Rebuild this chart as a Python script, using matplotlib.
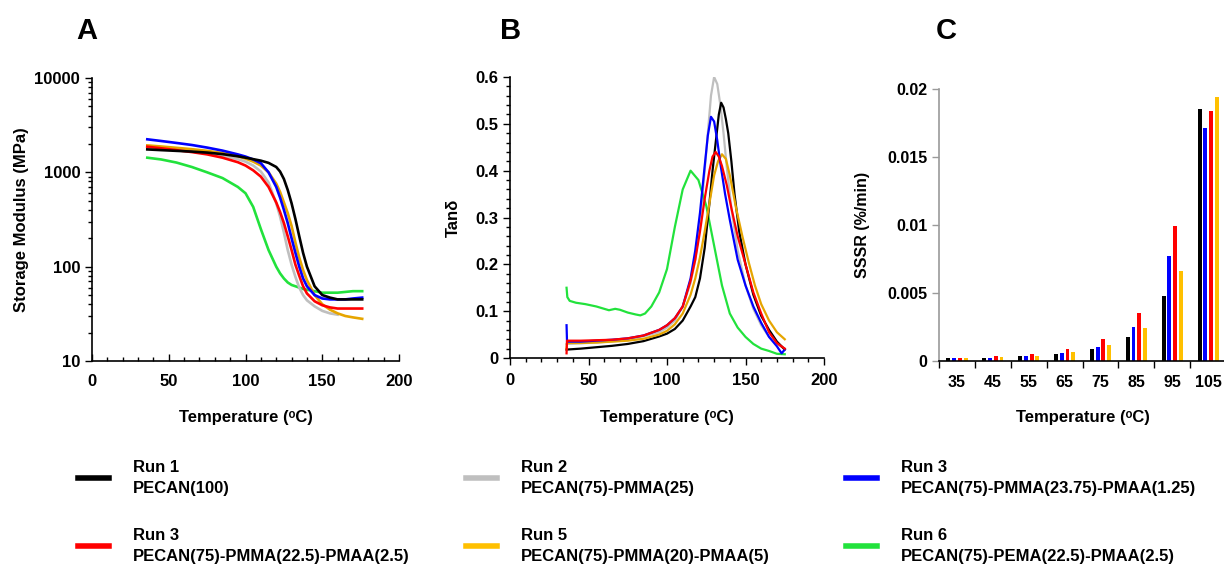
import numpy as np
import matplotlib
matplotlib.use("Agg")
import matplotlib.pyplot as plt
from matplotlib.ticker import MultipleLocator, FuncFormatter, FixedLocator, LogLocator, NullFormatter
from matplotlib.lines import Line2D

plt.rcParams['font.family'] = ['Liberation Sans', 'DejaVu Sans']
plt.rcParams['font.weight'] = 'bold'

# ---------------- data ----------------
run_labels = ["Run 1\nPECAN(100)", "Run 2\nPECAN(75)-PMMA(25)",
              "Run 3\nPECAN(75)-PMMA(23.75)-PMAA(1.25)", "Run 3\nPECAN(75)-PMMA(22.5)-PMAA(2.5)",
              "Run 5\nPECAN(75)-PMMA(20)-PMAA(5)", "Run 6\nPECAN(75)-PEMA(22.5)-PMAA(2.5)"]

# A: storage modulus (MPa)
tA = [36, 45, 55, 65, 75, 85, 95, 100, 105, 110, 115, 120, 122.5, 125, 127.5, 130,
      132.5, 135, 137.5, 140, 145, 150, 155, 160, 165, 170, 176]
eA_run1 = [1750, 1720, 1690, 1660, 1620, 1560, 1480, 1430, 1380, 1330, 1260, 1140, 1020, 850, 650, 470,
           320, 210, 140, 100, 62, 50, 47, 45, 45, 45, 45]
tA_run2 = [36, 45, 55, 65, 75, 85, 95, 100, 105, 110, 115, 120, 122.5, 125, 127.5, 130,
           132.5, 135, 137.5, 140, 145, 150, 155, 160]
eA_run2 = [1800, 1760, 1720, 1660, 1590, 1500, 1380, 1300, 1180, 1020, 780, 470, 340, 230, 150, 105,
           78, 60, 50, 44, 38, 34, 32, 31]
eA_run3a = [2240, 2150, 2050, 1950, 1830, 1700, 1550, 1470, 1370, 1250, 1000, 700, 540, 400, 290, 200,
            140, 100, 75, 62, 50, 46, 45, 45, 45, 46, 47]
eA_run3b = [1870, 1800, 1720, 1640, 1550, 1430, 1280, 1180, 1050, 900, 700, 480, 380, 290, 210, 150,
            105, 80, 62, 52, 43, 39, 37, 36, 36, 36, 36]
eA_run5 = [1930, 1880, 1820, 1760, 1690, 1600, 1480, 1400, 1300, 1180, 1000, 760, 620, 480, 370, 270,
           180, 125, 92, 72, 50, 40, 35, 32, 30, 29, 28]
eA_run6 = [1430, 1370, 1270, 1140, 1000, 870, 700, 600, 430, 250, 150, 100, 85, 75, 68, 64,
           62, 60, 58, 57, 55, 53, 53, 53, 54, 55, 55]

# B: tan delta
tB_run1 = [36, 45, 55, 65, 75, 85, 95, 100, 105, 110, 115, 118, 121, 124, 127, 129, 131, 133, 134.5,
           136, 137.5, 139, 141, 143, 146, 150, 155, 160, 165, 170, 175]
dB_run1 = [0.018, 0.02, 0.023, 0.026, 0.03, 0.036, 0.046, 0.052, 0.062, 0.08, 0.11, 0.13, 0.17, 0.235,
           0.33, 0.4, 0.46, 0.52, 0.545, 0.535, 0.51, 0.48, 0.42, 0.35, 0.27, 0.2, 0.135, 0.09, 0.06,
           0.035, 0.018]
tB_run2 = [36, 55, 75, 95, 100, 105, 110, 115, 118, 121, 124, 126, 128, 130, 132, 134, 136, 138, 141,
           145, 150, 155, 160, 165, 170, 175]
dB_run2 = [0.03, 0.033, 0.038, 0.055, 0.065, 0.08, 0.11, 0.16, 0.21, 0.29, 0.4, 0.48, 0.56, 0.6, 0.585,
           0.54, 0.48, 0.41, 0.32, 0.23, 0.155, 0.105, 0.07, 0.045, 0.03, 0.02]
tB_run3a = [36, 36.3, 45, 55, 65, 75, 85, 95, 100, 105, 110, 115, 118, 121, 124, 126, 128, 130, 132,
            134, 137, 140, 145, 150, 155, 160, 165, 170, 173, 175]
dB_run3a = [0.07, 0.035, 0.035, 0.037, 0.039, 0.042, 0.048, 0.06, 0.07, 0.085, 0.11, 0.17, 0.23, 0.31,
            0.41, 0.475, 0.515, 0.505, 0.465, 0.415, 0.35, 0.295, 0.21, 0.155, 0.11, 0.075, 0.045,
            0.025, 0.01, 0.018]
tB_run3b = [36, 36.3, 45, 55, 65, 75, 85, 95, 100, 105, 110, 115, 118, 121, 124, 127, 129, 131, 133,
            135, 138, 141, 145, 150, 155, 160, 165, 170, 175]
dB_run3b = [0.01, 0.037, 0.037, 0.038, 0.039, 0.042, 0.048, 0.06, 0.07, 0.085, 0.11, 0.165, 0.21, 0.27,
            0.34, 0.4, 0.43, 0.44, 0.43, 0.41, 0.37, 0.32, 0.26, 0.2, 0.14, 0.095, 0.055, 0.032, 0.02]
tB_run5 = [36, 36.3, 45, 55, 65, 75, 85, 95, 100, 105, 110, 115, 118, 121, 124, 127, 130, 132.5, 135,
           137.5, 140, 144, 148, 152, 156, 160, 165, 170, 175]
dB_run5 = [0.02, 0.032, 0.032, 0.033, 0.035, 0.037, 0.041, 0.05, 0.058, 0.072, 0.095, 0.135, 0.17, 0.215,
           0.27, 0.33, 0.39, 0.42, 0.435, 0.425, 0.39, 0.32, 0.26, 0.205, 0.155, 0.115, 0.08, 0.055, 0.04]
tB_run6 = [36, 36.5, 38, 42, 48, 55, 60, 63, 67, 70, 75, 80, 83, 86, 90, 95, 100, 105, 110, 115, 120,
           125, 130, 135, 140, 145, 150, 155, 160, 165, 170, 175]
dB_run6 = [0.15, 0.13, 0.122, 0.118, 0.115, 0.11, 0.105, 0.102, 0.105, 0.103, 0.097, 0.093, 0.091, 0.095,
           0.11, 0.14, 0.19, 0.28, 0.36, 0.40, 0.38, 0.325, 0.24, 0.155, 0.095, 0.065, 0.045, 0.03,
           0.02, 0.015, 0.009, 0.008]

# C: SSSR (%/min)
temps_C = ["35", "45", "55", "65", "75", "85", "95", "105"]
sssr_run1 = [0.0002, 0.00025, 0.00035, 0.00055, 0.0009, 0.0018, 0.0048, 0.0185]
sssr_run3a = [0.0002, 0.00025, 0.00035, 0.0006, 0.00105, 0.0025, 0.0077, 0.0171]
sssr_run3b = [0.00025, 0.0004, 0.00055, 0.00085, 0.0016, 0.00355, 0.00995, 0.0184]
sssr_run5 = [0.0002, 0.0003, 0.0004, 0.00065, 0.00115, 0.00245, 0.0066, 0.0194]

c_black, c_gray, c_blue, c_red = '#000000', '#BFBFBF', '#0000FF', '#FF0000'
c_orange_line, c_orange, c_green = '#E6A500', '#FFC000', '#22E23C'

fig = plt.figure(figsize=(12.24, 5.67), dpi=100)
tfs = 12

# ---------------- A ----------------
axA = fig.add_axes([0.0752, 0.3633, 0.2508, 0.4991])
for t, v, c in [(tA, eA_run6, c_green), (tA_run2, eA_run2, c_gray), (tA, eA_run5, c_orange_line),
                (tA, eA_run3b, c_red), (tA, eA_run3a, c_blue), (tA, eA_run1, c_black)]:
    axA.plot(t, v, color=c, lw=1.9)
axA.set_yscale('log')
axA.set_xlim(0, 200)
axA.set_ylim(10, 10000)
axA.xaxis.set_major_locator(MultipleLocator(50))
axA.xaxis.set_minor_locator(MultipleLocator(10))
axA.yaxis.set_major_locator(LogLocator(base=10))
axA.yaxis.set_minor_locator(LogLocator(base=10, subs=np.arange(2, 10)))
axA.yaxis.set_minor_formatter(NullFormatter())
axA.yaxis.set_major_formatter(FuncFormatter(lambda v, p: '%d' % v))
axA.tick_params(axis='x', which='both', direction='in', pad=9)
axA.tick_params(axis='y', which='both', direction='out')
axA.set_ylabel('Storage Modulus (MPa)', fontsize=tfs, fontweight='bold')

# ---------------- B ----------------
axB = fig.add_axes([0.4167, 0.3686, 0.2565, 0.4956])
for t, v, c in [(tB_run2, dB_run2, c_gray), (tB_run6, dB_run6, c_green), (tB_run1, dB_run1, c_black),
                (tB_run5, dB_run5, c_orange_line), (tB_run3a, dB_run3a, c_blue), (tB_run3b, dB_run3b, c_red)]:
    axB.plot(t, v, color=c, lw=1.6)
axB.set_xlim(0, 200)
axB.set_ylim(0, 0.6)
axB.xaxis.set_major_locator(MultipleLocator(50))
axB.xaxis.set_minor_locator(MultipleLocator(10))
axB.yaxis.set_major_locator(MultipleLocator(0.1))
axB.yaxis.set_minor_locator(MultipleLocator(0.02))
axB.yaxis.set_major_formatter(FuncFormatter(lambda v, p: '%g' % round(v, 3)))
axB.tick_params(axis='both', which='both', direction='out')
axB.tick_params(axis='x', which='major', pad=6)
axB.set_ylabel('Tanδ', fontsize=tfs, fontweight='bold', labelpad=10)

# ---------------- C ----------------
axC = fig.add_axes([0.7672, 0.3633, 0.2345, 0.4797])
xpos = np.arange(len(temps_C))
offs = [-0.24, -0.08, 0.08, 0.24]
for o, vals, c in zip(offs, [sssr_run1, sssr_run3a, sssr_run3b, sssr_run5],
                      [c_black, c_blue, c_red, c_orange]):
    axC.bar(xpos + o, vals, width=0.11, color=c)
axC.set_xlim(-0.5, len(temps_C) - 0.5)
axC.set_ylim(0, 0.02)
axC.set_xticks(xpos)
axC.set_xticklabels(temps_C)
axC.xaxis.set_minor_locator(FixedLocator(np.arange(len(temps_C) + 1) - 0.5))
axC.tick_params(axis='x', which='major', length=0, pad=10)
axC.yaxis.set_major_locator(MultipleLocator(0.005))
axC.yaxis.set_major_formatter(FuncFormatter(lambda v, p: '%g' % round(v, 4)))
axC.spines['left'].set_color('#9a9a9a')
axC.tick_params(axis='y', colors='#9a9a9a', labelcolor='black')
axC.set_ylabel('SSSR (%/min)', fontsize=11.5, fontweight='bold', labelpad=12)

for ax, fs in [(axA, tfs), (axB, tfs), (axC, 11.5)]:
    ax.spines['top'].set_visible(False)
    ax.spines['right'].set_visible(False)
    ax.spines['left'].set_linewidth(1.2)
    ax.spines['bottom'].set_linewidth(1.2)
    ax.tick_params(which='major', length=5, width=1)
    ax.tick_params(which='minor', length=3, width=1)
    for lab in ax.get_xticklabels() + ax.get_yticklabels():
        lab.set_fontsize(fs)
        lab.set_fontweight('bold')
    ax.set_xlabel('Temperature (ᵒC)', fontsize=tfs, fontweight='bold')

axC.tick_params(axis='x', which='major', length=0)
axC.tick_params(axis='x', which='minor', length=5, direction='out')

# x labels all on one line across panels
axA.xaxis.set_label_coords(0.5, -0.173)
axB.xaxis.set_label_coords(0.5, -0.185)
axC.xaxis.set_label_coords(0.5, -0.18)

# panel letters
for x, s in [(0.071, 'A'), (0.417, 'B'), (0.773, 'C')]:
    fig.text(x, 0.946, s, fontsize=21, fontweight='bold', ha='center', va='center')

# legends
leg_cols = [(0.0637, [(c_black, run_labels[0]), (c_red, run_labels[3])]),
            (0.3807, [(c_gray, run_labels[1]), (c_orange, run_labels[4])]),
            (0.6912, [(c_blue, run_labels[2]), (c_green, run_labels[5])])]
for x, items in leg_cols:
    handles = [Line2D([0], [0], color=c, lw=4) for c, _ in items]
    leg = fig.legend(handles, [l for _, l in items], loc='upper left', bbox_to_anchor=(x, 0.188),
                     frameon=False, prop={'weight': 'bold', 'size': 12}, handlelength=1.85,
                     handletextpad=1.45, labelspacing=1.95, borderpad=0, borderaxespad=0)
    for txt in leg.get_texts():
        txt.set_linespacing(1.45)

fig.savefig('out.png', dpi=100)
